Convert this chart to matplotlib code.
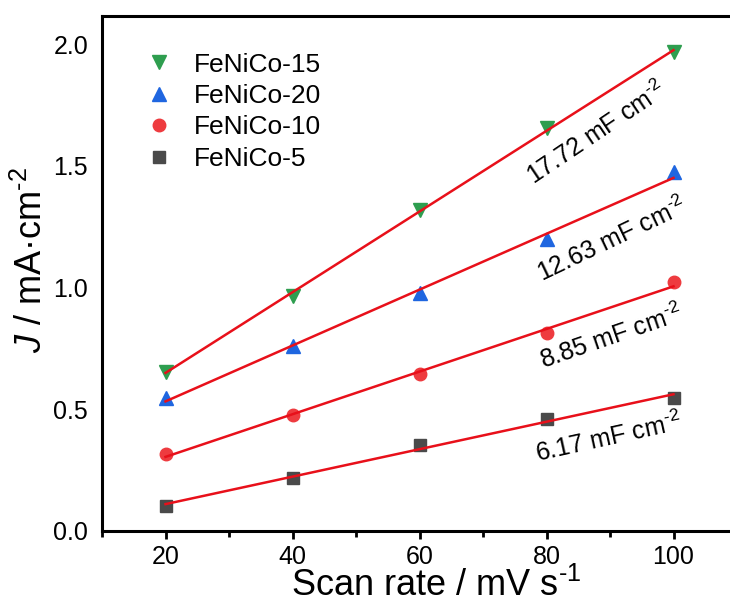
import numpy as np
import matplotlib
matplotlib.use("Agg")
import matplotlib.pyplot as plt
from matplotlib.ticker import MultipleLocator

plt.rcParams['font.family'] = ['Liberation Sans', 'DejaVu Sans']
plt.rcParams['mathtext.fontset'] = 'custom'
plt.rcParams['mathtext.rm'] = 'Liberation Sans'
plt.rcParams['mathtext.it'] = 'Liberation Sans:italic'

# scan rates (mV/s)
scan_rate = [20, 40, 60, 80, 100]

# current density (mA/cm2)
j_15 = [0.655, 0.965, 1.318, 1.655, 1.967]
j_20 = [0.546, 0.760, 0.977, 1.199, 1.474]
j_10 = [0.316, 0.476, 0.645, 0.813, 1.023]
j_5 = [0.103, 0.218, 0.353, 0.460, 0.546]

labels = ['FeNiCo-15', 'FeNiCo-20', 'FeNiCo-10', 'FeNiCo-5']
cdl_text = [r'17.72 mF cm$^{\text{-2}}$', r'12.63 mF cm$^{\text{-2}}$',
            r'8.85 mF cm$^{\text{-2}}$', r'6.17 mF cm$^{\text{-2}}$']

series = [j_15, j_20, j_10, j_5]
markers = ['v', '^', 'o', 's']
colors = ['#2e9e4f', '#1f66e0', '#ee3b3f', '#4a4a4a']
msizes = [10, 10, 9, 8]

# text placement (x, y, angle)
text_pos = [(87.9, 1.635, 34), (90.4, 1.195, 25.5),
            (90.1, 0.797, 19), (89.8, 0.382, 12.5)]

fig = plt.figure(figsize=(7.3, 6.1), dpi=100)
ax = fig.add_axes([102 / 730, 79 / 610, 635 / 730, 515 / 610])

x = np.array(scan_rate)
for ys, m, c, ms, lab in zip(series, markers, colors, msizes, labels):
    ax.plot(x, ys, linestyle='none', marker=m, color=c, markersize=ms,
            label=lab, zorder=3)
    k, b = np.polyfit(x, ys, 1)
    ax.plot(x[[0, -1]], k * x[[0, -1]] + b, color='#e8101a', lw=1.8, zorder=4)

for (tx, ty, rot), t in zip(text_pos, cdl_text):
    ax.text(tx, ty, t, fontsize=18, rotation=rot, ha='center', va='center',
            rotation_mode='anchor')

ax.set_xlim(10, 110)
ax.set_ylim(0, 2.115)
ax.xaxis.set_major_locator(MultipleLocator(20))
ax.xaxis.set_minor_locator(MultipleLocator(10))
ax.yaxis.set_major_locator(MultipleLocator(0.5))
ax.yaxis.set_major_formatter(matplotlib.ticker.FormatStrFormatter('%.1f'))

for s in ax.spines.values():
    s.set_linewidth(2.2)
ax.tick_params(axis='x', which='major', direction='out', length=6, width=2,
               labelsize=18, pad=4)
ax.tick_params(axis='x', which='minor', direction='out', length=4, width=2)
ax.tick_params(axis='y', which='both', length=0, labelsize=18, pad=10)

ax.set_xlabel(r'Scan rate / mV s$^{\text{-1}}$', fontsize=26)
ax.set_ylabel(r'$J$ / mA·cm$^{\text{-2}}$', fontsize=26)
ax.xaxis.set_label_coords((436 - 102) / 635, -0.071)
ax.yaxis.set_label_coords(-0.082, 0.526)

ax.legend(loc='upper left', bbox_to_anchor=(0.027, 0.975), frameon=False,
          fontsize=19, handletextpad=0.75, labelspacing=0.28, handlelength=1.2)

fig.savefig('out.png', dpi=100)
